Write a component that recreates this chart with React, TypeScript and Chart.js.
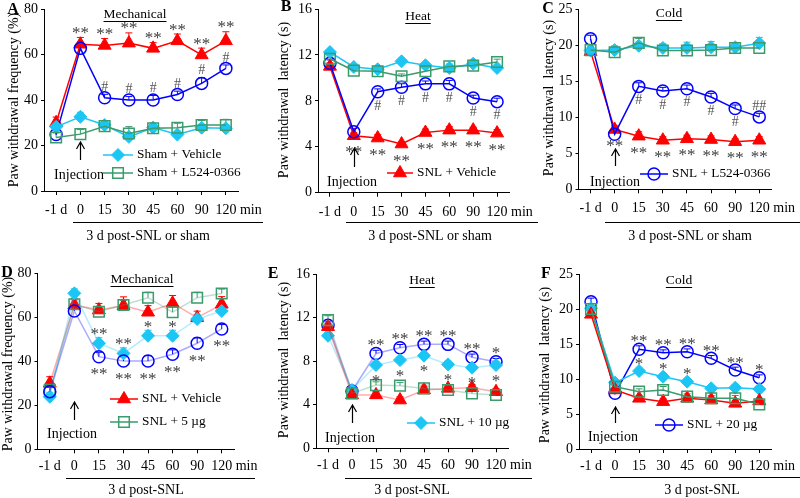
import React, { useEffect, useRef } from 'react';
import { Chart, registerables } from 'chart.js';
Chart.register(...registerables);

// ---------- data ----------
const categories = ['-1 d', '0', '15', '30', '45', '60', '90', '120'];

// Panel A (Mechanical, %)
const aSnlVehicle = [30, 64.5, 64, 65, 62.7, 66, 59.8, 66];
const aSnlVehicleErr = [2.5, 3, 3, 4.5, 2.5, 3, 3, 4];
const aSnlDrug = [24.8, 62.7, 41, 40, 40, 42.4, 47.3, 53.9];
const aSnlDrugErr = [2, 1.5, 1.5, 1.5, 2, 1.5, 2.5, 1.5];
const aShamVehicle = [28.2, 32.6, 29, 23.8, 27.9, 24.8, 27.8, 27.6];
const aShamVehicleErr = [1.5, 2, 2, 1.5, 1.5, 1.5, 1.5, 1.5];
const aShamDrug = [23.5, 25, 28.5, 25.3, 27.6, 27.8, 29, 29];
const aShamDrugErr = [2, 2, 2, 3, 1.5, 2, 2, 2.5];
const aSnlVehicleMarks = ['', '**', '**', '**', '**', '**', '**', '**'];
const aSnlDrugMarks = ['', '', '#', '#', '#', '#', '#', '#'];

// Panel B (Heat, s)
const bSnlVehicle = [11.0, 4.96, 4.76, 4.24, 5.24, 5.45, 5.45, 5.19];
const bSnlVehicleErr = [0.3, 0.25, 0.3, 0.2, 0.3, 0.3, 0.25, 0.3];
const bSnlDrug = [11.27, 5.3, 8.79, 9.19, 9.48, 9.48, 8.24, 7.93];
const bSnlDrugErr = [0.3, 0.3, 0.25, 0.3, 0.25, 0.3, 0.25, 0.3];
const bShamVehicle = [12.25, 10.95, 10.75, 11.44, 11.1, 10.86, 11.24, 10.86];
const bShamVehicleErr = [0.2, 0.2, 0.2, 0.2, 0.2, 0.2, 0.2, 0.2];
const bShamDrug = [11.67, 10.63, 10.58, 10.14, 10.58, 11.0, 11.07, 11.38];
const bShamDrugErr = [0.25, 0.2, 0.2, 0.2, 0.25, 0.2, 0.2, 0.25];
const bSnlVehicleMarks = ['', '**', '**', '**', '**', '**', '**', '**'];
const bSnlDrugMarks = ['', '', '#', '#', '#', '#', '#', '#'];

// Panel C (Cold, s)
const cSnlVehicle = [19.1, 8.3, 7.37, 6.8, 7.0, 6.9, 6.6, 6.8];
const cSnlVehicleErr = [0.5, 0.5, 0.6, 0.5, 0.5, 0.5, 0.4, 0.5];
const cSnlDrug = [20.86, 7.64, 14.27, 13.63, 13.95, 12.8, 11.19, 10.04];
const cSnlDrugErr = [0.5, 0.4, 0.5, 0.5, 0.5, 0.5, 0.5, 0.5];
const cShamVehicle = [19.25, 19.3, 19.9, 19.6, 19.6, 19.7, 19.7, 20.26];
const cShamVehicleErr = [0.5, 0.6, 0.5, 0.6, 0.8, 0.8, 0.5, 0.8];
const cShamDrug = [19.3, 19.0, 20.3, 19.25, 19.25, 19.3, 19.6, 19.6];
const cShamDrugErr = [0.4, 0.5, 0.6, 0.5, 0.5, 0.5, 0.5, 0.5];
const cSnlVehicleMarks = ['', '**', '**', '**', '**', '**', '**', '**'];
const cSnlDrugMarksBelow = ['', '', '#', '#', '#', '#', '#', ''];
const cSnlDrugMarksAbove = ['', '', '', '', '', '', '', '##'];

// Panel D (Mechanical, dose)
const dVehicle = [30, 65.6, 63.3, 65.3, 62.3, 66.4, 59.8, 65.9];
const dVehicleErr = [3, 3, 3, 4, 3, 3.5, 3, 3.5];
const d5ug = [27, 65.9, 62.5, 65.6, 68.9, 62.3, 68.9, 70.8];
const d5ugErr = [2, 2, 2, 2, 2.5, 3, 2.5, 2];
const d10ug = [23.9, 70.9, 48.2, 43.6, 51.6, 51.6, 59.2, 62.9];
const d10ugErr = [2, 2, 2.5, 2.5, 2.5, 2.5, 2, 2];
const d20ug = [26.2, 62.9, 42.1, 40.1, 40.1, 43.2, 48.2, 54.7];
const d20ugErr = [2, 2, 2, 2, 2.5, 2, 2.5, 2];
const d10ugMarks = ['', '', '**', '**', '*', '*', '', ''];
const d20ugMarks = ['', '', '**', '**', '**', '**', '**', '**'];

// Panel E (Heat, dose)
const eVehicle = [11.16, 4.9, 4.9, 4.43, 5.35, 5.5, 5.56, 5.19];
const eVehicleErr = [0.3, 0.3, 0.3, 0.3, 0.3, 0.3, 0.3, 0.3];
const e5ug = [11.77, 5.04, 5.8, 5.75, 5.5, 5.35, 5.04, 4.89];
const e5ugErr = [0.4, 0.3, 0.3, 0.3, 0.3, 0.3, 0.3, 0.3];
const e10ug = [10.33, 5.35, 7.64, 8.1, 8.5, 7.7, 7.4, 7.64];
const e10ugErr = [0.3, 0.3, 0.3, 0.3, 0.3, 0.3, 0.3, 0.3];
const e20ug = [11.3, 5.26, 8.7, 9.23, 9.54, 9.54, 8.35, 7.95];
const e20ugErr = [0.3, 0.3, 0.3, 0.3, 0.3, 0.3, 0.3, 0.3];
const e20ugMarks = ['', '', '**', '**', '**', '**', '**', '*'];
const e10ugMarks = ['', '', '*', '*', '*', '*', '*', '*'];

// Panel F (Cold, dose)
const fVehicle = [19.24, 8.43, 7.24, 6.76, 7.24, 7.0, 6.52, 6.86];
const fVehicleErr = [0.5, 0.4, 0.4, 0.4, 0.4, 0.4, 0.4, 0.4];
const f5ug = [20, 8.9, 8.19, 8.43, 7.48, 7.24, 7.24, 6.38];
const f5ugErr = [0.4, 0.4, 0.4, 0.5, 0.4, 0.4, 0.4, 0.4];
const f10ug = [20.1, 9.48, 11.14, 10.33, 9.62, 8.67, 8.76, 8.57];
const f10ugErr = [0.4, 0.4, 0.4, 0.4, 0.4, 0.4, 0.4, 0.4];
const f20ug = [21.05, 7.95, 14.24, 13.76, 13.9, 12.95, 11.29, 10.19];
const f20ugErr = [0.5, 0.4, 0.5, 0.4, 0.4, 0.4, 0.4, 0.4];
const f20ugMarks = ['', '', '**', '**', '**', '**', '**', '*'];
const f10ugMarks = ['', '', '*', '*', '*', '', '', ''];

// ---------- styling ----------
const RED = '#FF0000';
const BLUE = '#0000FF';
const CYAN = '#1CC6F4';
const GREEN = '#3A9B6C';
const MARK = '#404040';
const FONT = '"Liberation Serif", "Times New Roman", Times, serif';

type Kind = 'tri' | 'circ' | 'dia' | 'sq';
interface Series {
  label: string;
  kind: Kind;
  data: number[];
  err: number[];
  above?: string[];
  below?: string[];
}
const KIND: Record<Kind, { color: string; style: string; radius: number; fill: boolean }> = {
  tri: { color: RED, style: 'triangle', radius: 7.5, fill: true },
  circ: { color: BLUE, style: 'circle', radius: 6, fill: false },
  dia: { color: CYAN, style: 'rectRot', radius: 6.5, fill: true },
  sq: { color: GREEN, style: 'rect', radius: 7.5, fill: false },
};

function alpha(hex: string, a: number) {
  const n = parseInt(hex.slice(1), 16);
  return `rgba(${(n >> 16) & 255},${(n >> 8) & 255},${n & 255},${a})`;
}

interface PanelCfg {
  letter: string; letterPos: [number, number];
  title: string; titlePos: [number, number];
  yTitle: string; yTitlePos: [number, number];
  box: { l: number; r: number; t: number; b: number };
  yMax: number; yStep: number; tickPad: number;
  caption: string; capPos: [number, number];
  uline: [number, number, number];
  inj: { head: number; tail: number; tx: number; ty: number };
  legend: { s: Series; x1: number; x2: number; y: number }[];
  series: Series[];
  pale: boolean;
  gapA: number; gapB: number;
}

// series definitions
const A_sv: Series = { label: 'Sham + Vehicle', kind: 'dia', data: aShamVehicle, err: aShamVehicleErr };
const A_sd: Series = { label: 'Sham + L524-0366', kind: 'sq', data: aShamDrug, err: aShamDrugErr };
const A_nv: Series = { label: 'SNL + Vehicle', kind: 'tri', data: aSnlVehicle, err: aSnlVehicleErr, above: aSnlVehicleMarks };
const A_nd: Series = { label: 'SNL + L524-0366', kind: 'circ', data: aSnlDrug, err: aSnlDrugErr, above: aSnlDrugMarks };

const B_sv: Series = { label: 'Sham + Vehicle', kind: 'dia', data: bShamVehicle, err: bShamVehicleErr };
const B_sd: Series = { label: 'Sham + L524-0366', kind: 'sq', data: bShamDrug, err: bShamDrugErr };
const B_nv: Series = { label: 'SNL + Vehicle', kind: 'tri', data: bSnlVehicle, err: bSnlVehicleErr, below: bSnlVehicleMarks };
const B_nd: Series = { label: 'SNL + L524-0366', kind: 'circ', data: bSnlDrug, err: bSnlDrugErr, below: bSnlDrugMarks };

const C_sv: Series = { label: 'Sham + Vehicle', kind: 'dia', data: cShamVehicle, err: cShamVehicleErr };
const C_sd: Series = { label: 'Sham + L524-0366', kind: 'sq', data: cShamDrug, err: cShamDrugErr };
const C_nv: Series = { label: 'SNL + Vehicle', kind: 'tri', data: cSnlVehicle, err: cSnlVehicleErr, below: cSnlVehicleMarks };
const C_nd: Series = { label: 'SNL + L524-0366', kind: 'circ', data: cSnlDrug, err: cSnlDrugErr, below: cSnlDrugMarksBelow, above: cSnlDrugMarksAbove };

const D_v: Series = { label: 'SNL + Vehicle', kind: 'tri', data: dVehicle, err: dVehicleErr };
const D_5: Series = { label: 'SNL + 5 µg', kind: 'sq', data: d5ug, err: d5ugErr };
const D_10: Series = { label: 'SNL + 10 µg', kind: 'dia', data: d10ug, err: d10ugErr, above: d10ugMarks };
const D_20: Series = { label: 'SNL + 20 µg', kind: 'circ', data: d20ug, err: d20ugErr, below: d20ugMarks };

const E_v: Series = { label: 'SNL + Vehicle', kind: 'tri', data: eVehicle, err: eVehicleErr };
const E_5: Series = { label: 'SNL + 5 µg', kind: 'sq', data: e5ug, err: e5ugErr };
const E_10: Series = { label: 'SNL + 10 µg', kind: 'dia', data: e10ug, err: e10ugErr, below: e10ugMarks };
const E_20: Series = { label: 'SNL + 20 µg', kind: 'circ', data: e20ug, err: e20ugErr, above: e20ugMarks };

const F_v: Series = { label: 'SNL + Vehicle', kind: 'tri', data: fVehicle, err: fVehicleErr };
const F_5: Series = { label: 'SNL + 5 µg', kind: 'sq', data: f5ug, err: f5ugErr };
const F_10: Series = { label: 'SNL + 10 µg', kind: 'dia', data: f10ug, err: f10ugErr, above: f10ugMarks };
const F_20: Series = { label: 'SNL + 20 µg', kind: 'circ', data: f20ug, err: f20ugErr, above: f20ugMarks };

const PANELS: PanelCfg[] = [
  {
    letter: 'A', letterPos: [13, 10], title: 'Mechanical', titlePos: [135, 14],
    yTitle: 'Paw withdrawal frequency (%)', yTitlePos: [14, 100],
    box: { l: 44, r: 238, t: 9, b: 191 }, yMax: 80, yStep: 20, tickPad: 7,
    caption: '3 d post-SNL or sham', capPos: [148, 236], uline: [73, 263, 222],
    inj: { head: 142, tail: 160, tx: 79, ty: 175 },
    legend: [{ s: A_sv, x1: 103, x2: 133, y: 155 }, { s: A_sd, x1: 103, x2: 133, y: 173 }],
    series: [A_sd, A_sv, A_nd, A_nv], pale: false, gapA: 8, gapB: 13,
  },
  {
    letter: 'B', letterPos: [286, 7], title: 'Heat', titlePos: [418, 16],
    yTitle: 'Paw withdrawal  latency (s)', yTitlePos: [284, 100],
    box: { l: 318, r: 509, t: 7.3, b: 192.7 }, yMax: 16, yStep: 4, tickPad: 7,
    caption: '3 d post-SNL or sham', capPos: [430, 236], uline: [346, 538, 222],
    inj: { head: 148, tail: 167, tx: 352, ty: 182 },
    legend: [{ s: B_nv, x1: 387, x2: 413, y: 173 }],
    series: [B_sd, B_sv, B_nd, B_nv], pale: false, gapA: 8, gapB: 13,
  },
  {
    letter: 'C', letterPos: [548, 9], title: 'Cold', titlePos: [669, 13],
    yTitle: 'Paw withdrawal  latency (s)', yTitlePos: [549, 98],
    box: { l: 578.5, r: 771.3, t: 8.3, b: 189.3 }, yMax: 25, yStep: 5, tickPad: 7,
    caption: '3 d post-SNL or sham', capPos: [690, 236], uline: [605, 800, 222],
    inj: { head: 149, tail: 166, tx: 615, ty: 182 },
    legend: [{ s: C_nd, x1: 640, x2: 668, y: 174 }],
    series: [C_sd, C_sv, C_nd, C_nv], pale: false, gapA: 8, gapB: 13,
  },
  {
    letter: 'D', letterPos: [7, 273], title: 'Mechanical', titlePos: [142, 279],
    yTitle: 'Paw withdrawal frequency (%)', yTitlePos: [8, 364],
    box: { l: 37.5, r: 234, t: 273.3, b: 449.3 }, yMax: 80, yStep: 20, tickPad: 5,
    caption: '3 d post-SNL', capPos: [146, 490], uline: [66, 255, 478],
    inj: { head: 402, tail: 420, tx: 72, ty: 434 },
    legend: [{ s: D_v, x1: 110, x2: 138, y: 399 }, { s: D_5, x1: 110, x2: 138, y: 422 }],
    series: [D_20, D_10, D_5, D_v], pale: true, gapA: 7, gapB: 14,
  },
  {
    letter: 'E', letterPos: [273, 274], title: 'Heat', titlePos: [422, 280],
    yTitle: 'Paw withdrawal  latency (s)', yTitlePos: [284, 360],
    box: { l: 316, r: 508, t: 274, b: 448.3 }, yMax: 16, yStep: 4, tickPad: 5,
    caption: '3 d post-SNL', capPos: [412, 490], uline: [345, 532, 478],
    inj: { head: 405, tail: 423, tx: 350, ty: 438 },
    legend: [{ s: E_10, x1: 407, x2: 435, y: 423 }],
    series: [E_5, E_v, E_10, E_20], pale: true, gapA: 9, gapB: 12,
  },
  {
    letter: 'F', letterPos: [546, 274], title: 'Cold', titlePos: [679, 280],
    yTitle: 'Paw withdrawal  latency (s)', yTitlePos: [545, 365],
    box: { l: 579, r: 771.3, t: 274, b: 449 }, yMax: 25, yStep: 5, tickPad: 5,
    caption: '3 d post-SNL', capPos: [702, 490], uline: [610, 800, 477],
    inj: { head: 407, tail: 423, tx: 613, ty: 437 },
    legend: [{ s: F_20, x1: 655, x2: 683, y: 425 }],
    series: [F_5, F_v, F_10, F_20], pale: false, gapA: 8, gapB: 13,
  },
];

// ---------- drawing helpers ----------
function text(ctx: CanvasRenderingContext2D, s: string, x: number, y: number, size = 14, align: CanvasTextAlign = 'center', weight = 'normal', color = '#000') {
  ctx.font = `${weight} ${size}px ${FONT}`;
  ctx.fillStyle = color;
  ctx.textAlign = align;
  ctx.textBaseline = 'middle';
  ctx.fillText(s, x, y);
}

function mark(ctx: CanvasRenderingContext2D, s: string, x: number, yc: number) {
  const star = s.includes('*');
  const size = star ? 17 : 14;
  ctx.font = `${size}px ${FONT}`;
  ctx.fillStyle = star ? MARK : '#555';
  ctx.textAlign = 'center';
  ctx.textBaseline = 'alphabetic';
  const off = star ? 0.5 * size : 0.34 * size;
  ctx.fillText(s, x, yc + off);
}

function drawMarker(ctx: CanvasRenderingContext2D, kind: Kind, x: number, y: number) {
  const k = KIND[kind];
  const r = k.radius;
  ctx.beginPath();
  if (kind === 'tri') {
    for (let j = 0; j < 3; j++) {
      const a = j * (2 * Math.PI / 3);
      const fx = x + Math.sin(a) * r, fy = y - Math.cos(a) * r;
      if (j) ctx.lineTo(fx, fy); else ctx.moveTo(fx, fy);
    }
    ctx.closePath();
  } else if (kind === 'circ') {
    ctx.arc(x, y, r, 0, Math.PI * 2);
  } else if (kind === 'dia') {
    ctx.moveTo(x - r, y); ctx.lineTo(x, y - r); ctx.lineTo(x + r, y); ctx.lineTo(x, y + r); ctx.closePath();
  } else {
    const h = r * Math.SQRT1_2;
    ctx.rect(x - h, y - h, 2 * h, 2 * h);
  }
  if (k.fill) { ctx.fillStyle = k.color; ctx.fill(); }
  ctx.lineWidth = k.fill ? 1 : 1.5;
  ctx.strokeStyle = k.color;
  ctx.stroke();
}

const decorPlugin = {
  id: 'decor',
  beforeDatasetsDraw(chart: any) {
    const p: PanelCfg = chart.options.plugins.decor.panel;
    const ctx: CanvasRenderingContext2D = chart.ctx;
    const xs = chart.scales.x, ys = chart.scales.y;
    p.series.forEach((s) => {
      const k = KIND[s.kind];
      ctx.save();
      ctx.strokeStyle = k.color;
      ctx.lineWidth = 1;
      s.data.forEach((v, i) => {
        const e = s.err[i];
        if (!e) return;
        const px = xs.getPixelForValue(i), py = ys.getPixelForValue(v), pe = ys.getPixelForValue(v + e);
        ctx.beginPath();
        ctx.moveTo(px, py); ctx.lineTo(px, pe);
        ctx.moveTo(px - 3.5, pe); ctx.lineTo(px + 3.5, pe);
        ctx.stroke();
      });
      ctx.restore();
    });
  },
  afterDraw(chart: any) {
    const p: PanelCfg = chart.options.plugins.decor.panel;
    const ctx: CanvasRenderingContext2D = chart.ctx;
    const xs = chart.scales.x, ys = chart.scales.y;
    const area = chart.chartArea;
    ctx.save();
    // significance marks
    p.series.forEach((s) => {
      s.data.forEach((v, i) => {
        const px = xs.getPixelForValue(i), py = ys.getPixelForValue(v);
        const ep = py - ys.getPixelForValue(v + (s.err[i] || 0));
        if (s.above && s.above[i]) mark(ctx, s.above[i], px, py - ep - p.gapA);
        if (s.below && s.below[i]) mark(ctx, s.below[i], px, py + p.gapB);
      });
    });
    // panel letter
    text(ctx, p.letter, p.letterPos[0], p.letterPos[1], 16, 'center', 'bold');
    // title with underline
    text(ctx, p.title, p.titlePos[0], p.titlePos[1], 13.5);
    const tw = ctx.measureText(p.title).width;
    ctx.strokeStyle = '#000'; ctx.lineWidth = 1;
    ctx.beginPath();
    ctx.moveTo(p.titlePos[0] - tw / 2, p.titlePos[1] + 7.5);
    ctx.lineTo(p.titlePos[0] + tw / 2, p.titlePos[1] + 7.5);
    ctx.stroke();
    // y-axis title
    ctx.save();
    ctx.translate(p.yTitlePos[0], p.yTitlePos[1]);
    ctx.rotate(-Math.PI / 2);
    text(ctx, p.yTitle, 0, 0, 14);
    ctx.restore();
    // "min" after last tick label
    const labelY = area.bottom + 4 + p.tickPad + 8.4;
    text(ctx, 'min', xs.getPixelForValue(categories.length - 1) + 14, labelY, 14, 'left');
    // underline & caption
    ctx.strokeStyle = '#000'; ctx.lineWidth = 1;
    ctx.beginPath();
    ctx.moveTo(p.uline[0], p.uline[2] + 0.5);
    ctx.lineTo(p.uline[1], p.uline[2] + 0.5);
    ctx.stroke();
    text(ctx, p.caption, p.capPos[0], p.capPos[1], 14);
    // injection arrow
    const ax = Math.round(xs.getPixelForValue(1)) + 0.5;
    ctx.strokeStyle = '#000'; ctx.lineWidth = 1.2;
    ctx.beginPath();
    ctx.moveTo(ax, p.inj.tail); ctx.lineTo(ax, p.inj.head);
    ctx.moveTo(ax - 4, p.inj.head + 7); ctx.lineTo(ax, p.inj.head); ctx.lineTo(ax + 4, p.inj.head + 7);
    ctx.stroke();
    text(ctx, 'Injection', p.inj.tx, p.inj.ty, 14);
    // legend
    p.legend.forEach((l) => {
      const k = KIND[l.s.kind];
      ctx.strokeStyle = k.color; ctx.lineWidth = 1.5;
      ctx.beginPath(); ctx.moveTo(l.x1, l.y); ctx.lineTo(l.x2, l.y); ctx.stroke();
      drawMarker(ctx, l.s.kind, (l.x1 + l.x2) / 2, l.y);
      text(ctx, l.s.label, l.x2 + 4, l.y, 13.3, 'left');
    });
    ctx.restore();
  },
};

const Y_W = 30;
const X_H = 30;

function buildConfig(p: PanelCfg): any {
  const tickFont = { family: FONT, size: 14 };
  return {
    type: 'line',
    data: {
      labels: categories,
      datasets: p.series.map((s) => {
        const k = KIND[s.kind];
        return {
          label: s.label,
          data: s.data,
          borderColor: p.pale ? alpha(k.color, 0.33) : k.color,
          borderWidth: 1.5,
          pointStyle: k.style,
          pointRadius: k.radius,
          pointBackgroundColor: k.fill ? k.color : 'rgba(0,0,0,0)',
          pointBorderColor: k.color,
          pointBorderWidth: k.fill ? 1 : 1.5,
          tension: 0,
          fill: false,
          clip: false,
        };
      }),
    },
    options: {
      responsive: false,
      animation: false,
      events: [],
      layout: { padding: { left: p.box.l - Y_W, right: 800 - p.box.r, top: p.box.t, bottom: 498 - p.box.b - X_H } },
      plugins: { legend: { display: false }, tooltip: { enabled: false }, decor: { panel: p } },
      scales: {
        x: {
          type: 'category',
          offset: true,
          grid: { offset: false, drawOnChartArea: false, drawTicks: true, tickLength: 4, color: '#000' },
          border: { color: '#000', width: 1 },
          ticks: { autoSkip: false, maxRotation: 0, minRotation: 0, padding: p.tickPad, color: '#000', font: tickFont },
          afterFit: (s: any) => { s.height = X_H; s.paddingLeft = 0; s.paddingRight = 0; },
        },
        y: {
          type: 'linear',
          min: 0,
          max: p.yMax,
          grid: { drawOnChartArea: false, drawTicks: true, tickLength: 3, color: '#000' },
          border: { color: '#000', width: 1 },
          ticks: { stepSize: p.yStep, padding: 3, color: '#000', font: tickFont },
          afterFit: (s: any) => { s.width = Y_W; s.paddingTop = 0; s.paddingBottom = 0; },
        },
      },
    },
    plugins: [decorPlugin],
  };
}

function PanelCanvas({ p }: { p: PanelCfg }) {
  const ref = useRef<HTMLCanvasElement>(null);
  useEffect(() => {
    const chart = new Chart(ref.current as HTMLCanvasElement, buildConfig(p));
    return () => chart.destroy();
  }, [p]);
  return (
    <canvas
      ref={ref}
      width={800}
      height={498}
      style={{ position: 'absolute', left: 0, top: 0, width: 800, height: 498 }}
    />
  );
}

export default function App() {
  return (
    <div style={{ position: 'fixed', left: 0, top: 0, width: 800, height: 498, background: '#fff', overflow: 'hidden' }}>
      {PANELS.map((p, i) => (
        <PanelCanvas key={i} p={p} />
      ))}
    </div>
  );
}
